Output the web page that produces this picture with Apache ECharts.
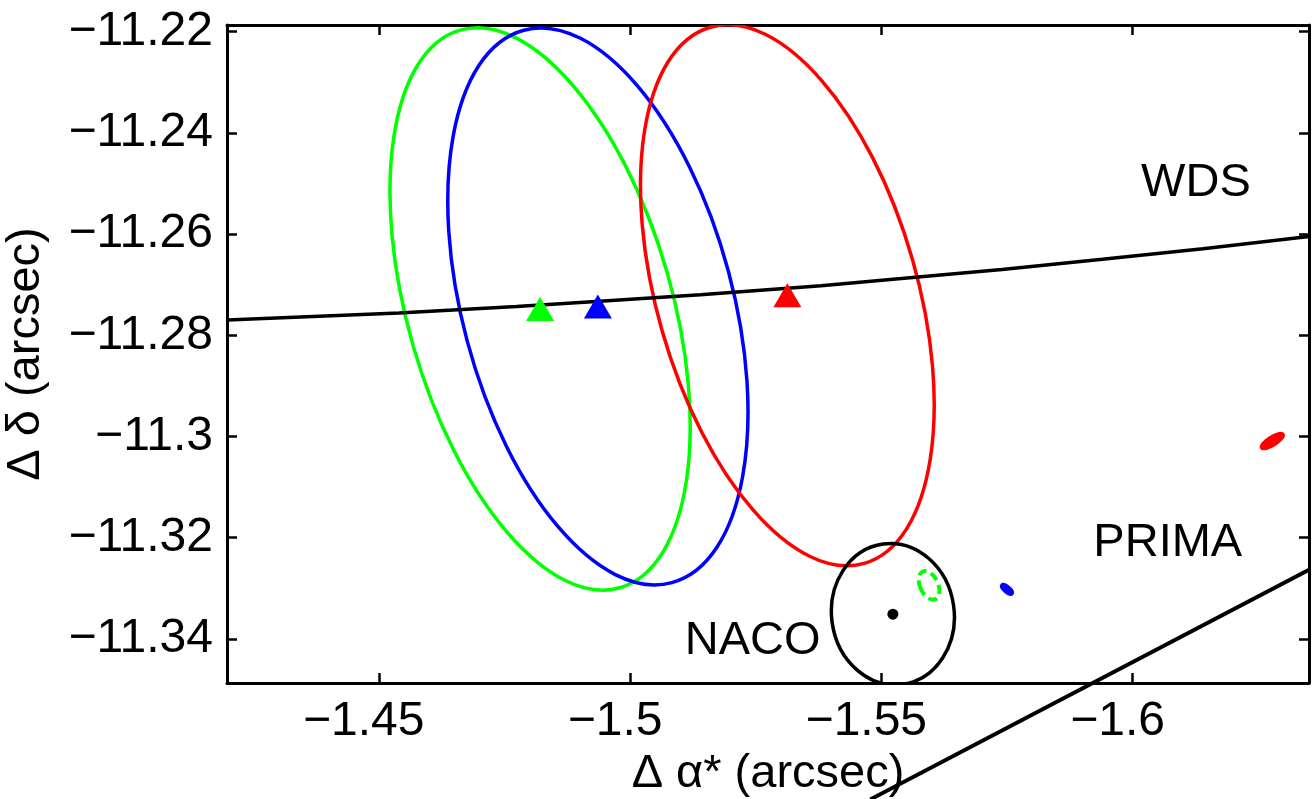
<!DOCTYPE html>
<html>
<head>
<meta charset="utf-8">
<script src="https://cdn.jsdelivr.net/npm/echarts@6/dist/echarts.min.js"></script>
<style>
  html, body { margin: 0; padding: 0; background: #fff; }
  #chart { width: 1312px; height: 799px; }
</style>
</head>
<body>
<div id="chart"></div>
<script>
// axis ranges (arcsec)
const xRange = [-1.6351, -1.4198]
const yRange = [-11.3487, -11.2187]
const xTicks = [-1.45, -1.5, -1.55, -1.6]
const yTicks = [-11.22, -11.24, -11.26, -11.28, -11.3, -11.32, -11.34]

// error ellipses: centre, semi-axis in dec, semi-axis in ra, tilt (deg)
const fitNames = ['fit1', 'fit2', 'fit3']
const fitX = [-1.4821, -1.4936, -1.5313]
const fitY = [-11.2748, -11.2743, -11.2721]
const fitA = [0.0573, 0.0565, 0.0551]
const fitB = [0.0263, 0.0269, 0.0259]
const fitTilt = [16, 15, 16]

// NACO
const nacoX = -1.5523
const nacoY = -11.3351
const nacoA = 0.0140
const nacoB = 0.0122
const nacoTilt = 8

// PRIMA small ellipses
const primaX = [-1.5595, -1.5750, -1.6278]
const primaY = [-11.3294, -11.3302, -11.3009]
const primaA = [0.0030, 0.0013, 0.0025]
const primaB = [0.0018, 0.0005, 0.0008]
const primaTilt = [25, 50, -58]

// WDS orbit track
const wdsX = [-1.4198, -1.454, -1.4774, -1.494, -1.514, -1.538, -1.554, -1.574, -1.594, -1.614, -1.6351]
const wdsY = [-11.2770, -11.2756, -11.2743, -11.2733, -11.2720, -11.2702, -11.2688, -11.2670, -11.2650, -11.2629, -11.2605]

// straight line at lower right
const diagX = [-1.5478, -1.6357]
const diagY = [-11.3717, -11.3260]

// text labels
const labelText = ['WDS', 'PRIMA', 'NACO']
const labelX = [-1.6126, -1.6070, -1.5244]
const labelY = [-11.2499, -11.3211, -11.3404]

const colors = ['#00ff00', '#0000ff', '#ff0000']
const FONT = 'Liberation Sans'

const fmt = v => String(parseFloat(v.toFixed(4))).replace('-', '\u2212')

function ellipseItem(params, api, fill, dash) {
  const c = api.coord([api.value(0), api.value(1)])
  const s = api.size([api.value(3), api.value(2)])
  const color = api.visual('color')
  return {
    type: 'ellipse',
    x: c[0],
    y: c[1],
    rotation: api.value(4) * Math.PI / 180,
    shape: { cx: 0, cy: 0, rx: s[0], ry: s[1] },
    style: {
      fill: fill ? color : 'none',
      stroke: color,
      lineWidth: dash ? 4 : 3.5,
      lineDash: dash ? [9, 5] : null
    }
  }
}

const chart = echarts.init(document.getElementById('chart'))

const xAxisBase = {
  type: 'value',
  min: xRange[0],
  max: xRange[1],
  inverse: true,
  splitLine: { show: false },
  axisLine: { onZero: false, lineStyle: { color: '#000', width: 3 } },
  axisTick: { inside: true, length: 10, customValues: xTicks, lineStyle: { color: '#000', width: 2.5 } }
}
const yAxisBase = {
  type: 'value',
  min: yRange[0],
  max: yRange[1],
  splitLine: { show: false },
  axisLine: { onZero: false, lineStyle: { color: '#000', width: 3 } },
  axisTick: { inside: true, length: 10, customValues: yTicks, lineStyle: { color: '#000', width: 2.5 } }
}

const option = {
  backgroundColor: '#fff',
  animation: false,
  textStyle: { fontFamily: FONT },
  grid: { left: 227, top: 25, right: 3, bottom: 116, containLabel: false, outerBoundsMode: 'none' },
  xAxis: [
    Object.assign({}, xAxisBase, {
      position: 'bottom',
      name: 'Δ α* (arcsec)',
      nameLocation: 'middle',
      nameGap: 64,
      nameTextStyle: { fontSize: 47, color: '#000', fontFamily: FONT },
      axisLabel: {
        customValues: xTicks, formatter: fmt, margin: 15, fontSize: 48,
        color: '#000', fontFamily: FONT, padding: [0, 30, 0, 0]
      }
    }),
    Object.assign({}, xAxisBase, { position: 'top', axisLabel: { show: false } })
  ],
  yAxis: [
    Object.assign({}, yAxisBase, {
      position: 'left',
      name: 'Δ δ (arcsec)',
      nameLocation: 'middle',
      nameGap: 177,
      nameTextStyle: { fontSize: 47, color: '#000', fontFamily: FONT },
      axisLabel: { customValues: yTicks, formatter: fmt, margin: 14, fontSize: 48, color: '#000', fontFamily: FONT }
    }),
    Object.assign({}, yAxisBase, { position: 'right', axisLabel: { show: false } })
  ],
  series: [
    {
      type: 'custom',
      clip: true,
      renderItem: (p, api) => ellipseItem(p, api, false, false),
      data: fitNames.map((n, i) => ({
        name: n,
        value: [fitX[i], fitY[i], fitA[i], fitB[i], fitTilt[i]],
        itemStyle: { color: colors[i] }
      }))
    },
    {
      type: 'custom',
      clip: true,
      renderItem: (p, api) => ellipseItem(p, api, false, false),
      data: [{ value: [nacoX, nacoY, nacoA, nacoB, nacoTilt], itemStyle: { color: '#000' } }]
    },
    {
      type: 'custom',
      clip: true,
      renderItem: (p, api) => ellipseItem(p, api, p.dataIndex > 0, p.dataIndex === 0),
      data: primaX.map((x, i) => ({
        value: [x, primaY[i], primaA[i], primaB[i], primaTilt[i]],
        itemStyle: { color: colors[i] }
      }))
    },
    {
      type: 'line',
      data: wdsX.map((x, i) => [x, wdsY[i]]),
      showSymbol: false,
      lineStyle: { color: '#000', width: 3.5 },
      z: 3
    },
    {
      type: 'line',
      clip: false,
      data: diagX.map((x, i) => [x, diagY[i]]),
      showSymbol: false,
      lineStyle: { color: '#000', width: 4 },
      z: 3
    },
    {
      type: 'scatter',
      symbol: 'triangle',
      symbolSize: [28, 24],
      data: fitNames.map((n, i) => ({ value: [fitX[i], fitY[i]], itemStyle: { color: colors[i], opacity: 1 } })),
      z: 4
    },
    {
      type: 'scatter',
      symbol: 'circle',
      symbolSize: 11,
      itemStyle: { color: '#000', opacity: 1 },
      data: [[nacoX, nacoY]],
      z: 4
    },
    {
      type: 'scatter',
      symbolSize: 0,
      itemStyle: { opacity: 1 },
      data: labelText.map((t, i) => [labelX[i], labelY[i], t]),
      label: {
        show: true,
        position: 'inside',
        formatter: p => p.value[2],
        fontSize: 47,
        color: '#000',
        opacity: 1,
        fontFamily: FONT
      },
      z: 5
    }
  ]
}

chart.setOption(option)
</script>
</body>
</html>
